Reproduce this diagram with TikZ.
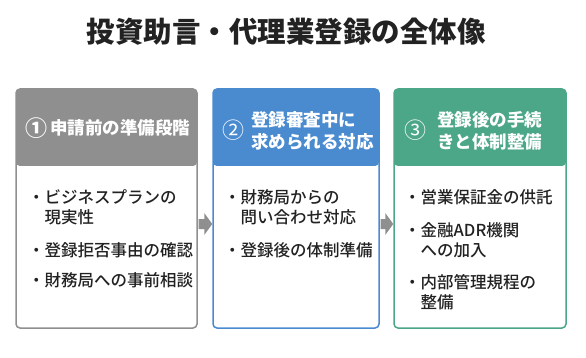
\documentclass[tikz,border=0pt]{standalone}
\usepackage{fontspec}
\setmainfont{Noto Sans CJK JP}
\newfontfamily\medfont{Noto Sans CJK JP Medium}
\usetikzlibrary{calc}
\definecolor{cgray}{HTML}{8F8F8F}
\definecolor{cblue}{HTML}{4A8BD0}
\definecolor{cgreen}{HTML}{4CA788}
\definecolor{agray}{HTML}{8F8F8F}
\definecolor{tcol}{HTML}{222222}
\begin{document}
\begin{tikzpicture}[x=1pt,y=-1pt,
  box/.style={draw=#1, line width=1.5pt, rounded corners=4pt, fill=white, inner sep=0pt,
    path picture={\fill[#1] (path picture bounding box.north west) rectangle ([yshift=-77pt]path picture bounding box.north east);}},
  hd/.style={inner sep=0pt, text=white, font=\bfseries\fontsize{17.5}{22}\selectfont, align=left, anchor=base west},
  num/.style={inner sep=0pt, text=white, font=\fontsize{22}{22}\selectfont},
  item/.style={inner sep=0pt, text=tcol, font=\medfont\fontsize{16.5}{20}\selectfont, align=left, anchor=base west},
  arrowfill/.style={fill=agray}
]
\useasboundingbox (0,0) rectangle (586,358);
\fill[white] (0,0) rectangle (586,358);

\node[inner sep=0pt, text=tcol, font=\bfseries\fontsize{28.5}{34}\selectfont] (title) at (286,32) {投資助言・代理業登録の全体像};

% arrow centre lines
\coordinate (a1s) at (197,224);
\coordinate (a1e) at (213,224);
\coordinate (a2s) at (379,224);
\coordinate (a2e) at (394,224);

\node[box=cgray, minimum width=181pt, minimum height=239pt] (b1) at (106.5,208.5) {};
\node[box=cblue, minimum width=166pt, minimum height=239pt] (b2) at (296,208.5) {};
\node[box=cgreen, minimum width=172pt, minimum height=239pt] (b3) at (480,208.5) {};

\fill[arrowfill] ($(b1.east |- a1s)+(0.75,-5)$) -- ($(b2.west |- a1e)+(-8,-5)$) -- ($(b2.west |- a1e)+(-8,-11)$) -- (b2.west |- a1e) -- ($(b2.west |- a1e)+(-8,11)$) -- ($(b2.west |- a1e)+(-8,5)$) -- ($(b1.east |- a1s)+(0.75,5)$) -- cycle;
\fill[arrowfill] ($(b2.east |- a2s)+(0.75,-5)$) -- ($(b3.west |- a2e)+(-8,-5)$) -- ($(b3.west |- a2e)+(-8,-11)$) -- (b3.west |- a2e) -- ($(b3.west |- a2e)+(-8,11)$) -- ($(b3.west |- a2e)+(-8,5)$) -- ($(b2.east |- a2s)+(0.75,5)$) -- cycle;

% headers
\node[num, font=\bfseries\fontsize{22}{22}\selectfont] (n1) at (36.5,128) {①};
\node[hd] (h1) at (50,134.6) {申請前の準備段階};
\node[num] (n2) at (233,130) {②};
\node[hd] (h2) at (251,148.6) {登録審査中に\\求められる対応};
\node[num] (n3) at (415,130) {③};
\node[hd] (h3) at (437,148.6) {登録後の手続\\きと体制整備};

% items (base = baseline of last line)
\node[item] (i11) at (28,223.3) {・ビジネスプランの\\\phantom{・}現実性};
\node[item] (i12) at (28,256.3) {・登録拒否事由の確認};
\node[item] (i13) at (28,286.3) {・財務局への事前相談};

\node[item] (i21) at (224,223.3) {・財務局からの\\\phantom{・}問い合わせ対応};
\node[item] (i22) at (224,256.3) {・登録後の体制準備};

\node[item] (i31) at (404,203.3) {・営業保証金の供託};
\node[item] (i32) at (404,256.3) {・金融ADR機関\\\phantom{・}への加入};
\node[item] (i33) at (404,308.3) {・内部管理規程の\\\phantom{・}整備};
\end{tikzpicture}
\end{document}
